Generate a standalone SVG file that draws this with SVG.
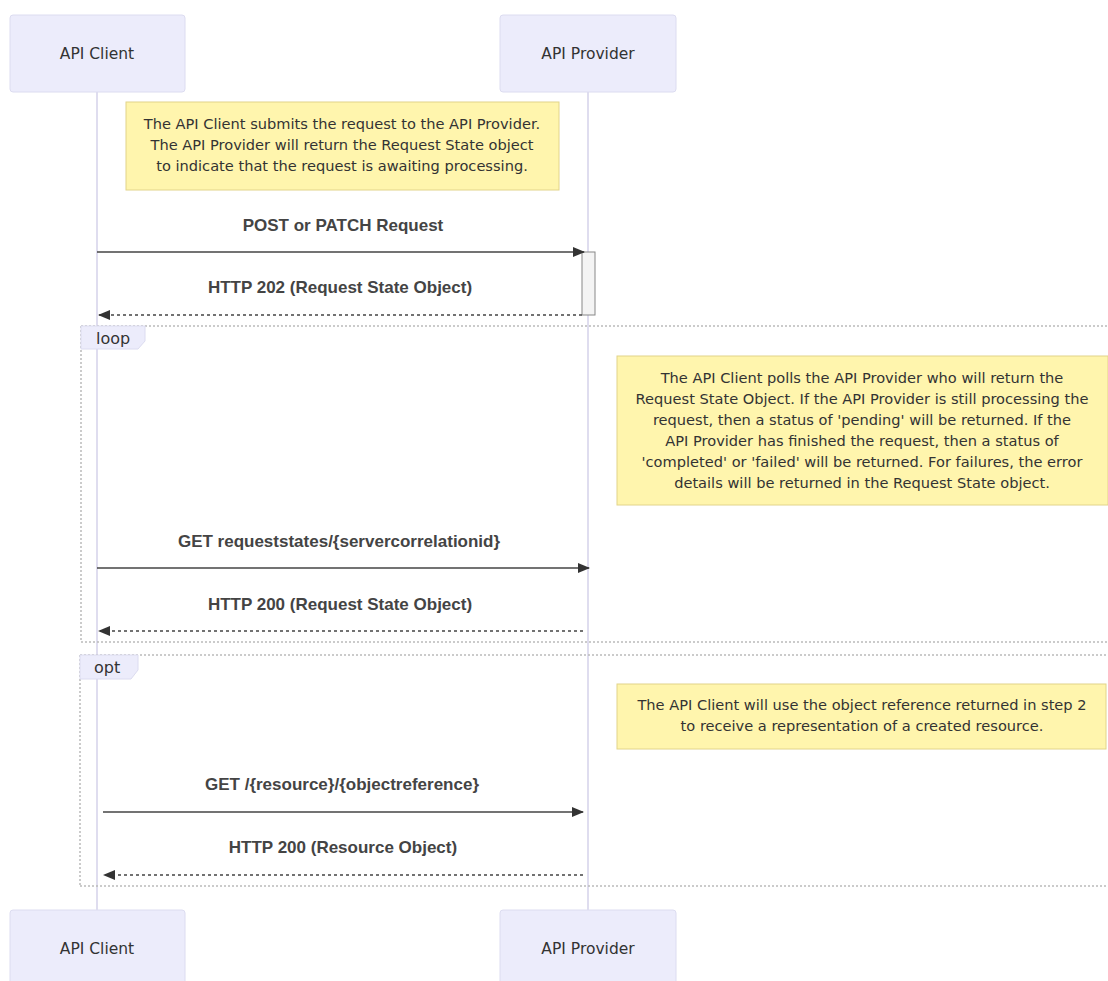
<svg xmlns="http://www.w3.org/2000/svg" width="1108" height="981" viewBox="0 0 1108 981">
<defs>
<marker id="arrow" viewBox="0 0 12 12" refX="11" refY="6" markerWidth="12" markerHeight="12" markerUnits="userSpaceOnUse" orient="auto">
<path d="M0,1 L12,6 L0,11 z" fill="#333"/>
</marker>
</defs>
<style>
.actor{fill:#ececfb;stroke:#dcdcf0;stroke-width:1}
.atext{font-family:"DejaVu Sans","Liberation Sans",sans-serif;font-size:15.5px;fill:#333;text-anchor:middle}
.life{stroke:#d4d2ea;stroke-width:1.5}
.note{fill:#fff5ad;stroke:#e2d48a;stroke-width:1}
.ntext{font-family:"DejaVu Sans","Liberation Sans",sans-serif;font-size:14.6px;fill:#333;text-anchor:middle}
.mtext{font-family:"Liberation Sans",Arial,sans-serif;font-size:17px;font-weight:bold;fill:#444;text-anchor:middle}
.msg{stroke:#444;stroke-width:1.5;fill:none}
.ret{stroke:#444;stroke-width:1.5;fill:none;stroke-dasharray:3,3}
.frame{fill:none;stroke:#bbb;stroke-width:1.5;stroke-dasharray:2,2}
.lbl{fill:#ececfb;stroke:#dcdcf0;stroke-width:1}
.ltext{font-family:"DejaVu Sans","Liberation Sans",sans-serif;font-size:16px;fill:#333}
.act{fill:#f4f4f4;stroke:#888;stroke-width:1}
</style>
<rect width="1108" height="981" fill="#fff"/>
<g id="lifelines">
<line class="life" x1="97" y1="92" x2="97" y2="910"/>
<line class="life" x1="588" y1="92" x2="588" y2="910"/>
</g>
<g id="actor-client-top"><rect class="actor" x="10" y="15" width="175" height="77" rx="3"/><text class="atext" x="97" y="59">API Client</text></g>
<g id="actor-provider-top"><rect class="actor" x="500" y="15" width="176" height="77" rx="3"/><text class="atext" x="588" y="59">API Provider</text></g>
<g id="actor-client-bottom"><rect class="actor" x="10" y="910" width="175" height="77" rx="3"/><text class="atext" x="97" y="954">API Client</text></g>
<g id="actor-provider-bottom"><rect class="actor" x="500" y="910" width="176" height="77" rx="3"/><text class="atext" x="588" y="954">API Provider</text></g>
<g id="note1"><rect class="note" x="126" y="102" width="433" height="88"/>
<text class="ntext" x="342" y="129">The API Client submits the request to the API Provider.</text>
<text class="ntext" x="342" y="150">The API Provider will return the Request State object</text>
<text class="ntext" x="342" y="171">to indicate that the request is awaiting processing.</text></g>
<g id="loop-frame">
<line class="frame" x1="81" y1="326" x2="1108" y2="326"/>
<line class="frame" x1="81" y1="326" x2="81" y2="642"/>
<line class="frame" x1="81" y1="642" x2="1108" y2="642"/>
<polygon class="lbl" points="81,326 145,326 145,341 138,349 81,349"/>
<text class="ltext" x="96" y="344">loop</text></g>
<g id="note2"><rect class="note" x="617" y="356" width="491" height="149"/>
<text class="ntext" x="862" y="383">The API Client polls the API Provider who will return the</text>
<text class="ntext" x="862" y="404">Request State Object. If the API Provider is still processing the</text>
<text class="ntext" x="862" y="425">request, then a status of 'pending' will be returned. If the</text>
<text class="ntext" x="862" y="446">API Provider has finished the request, then a status of</text>
<text class="ntext" x="862" y="467">'completed' or 'failed' will be returned. For failures, the error</text>
<text class="ntext" x="862" y="488">details will be returned in the Request State object.</text></g>
<g id="opt-frame">
<line class="frame" x1="80" y1="655" x2="1108" y2="655"/>
<line class="frame" x1="80" y1="655" x2="80" y2="886"/>
<line class="frame" x1="80" y1="886" x2="1108" y2="886"/>
<polygon class="lbl" points="80,655 138,655 138,670 131,679 80,679"/>
<text class="ltext" x="94" y="673">opt</text></g>
<g id="note3"><rect class="note" x="617" y="684" width="489" height="65"/>
<text class="ntext" x="862" y="710">The API Client will use the object reference returned in step 2</text>
<text class="ntext" x="862" y="731">to receive a representation of a created resource.</text></g>
<g id="activation"><rect class="act" x="582" y="252" width="13" height="63"/></g>
<g id="connectors">
<text class="mtext" x="343" y="231">POST or PATCH Request</text>
<line class="msg" x1="97" y1="252" x2="584" y2="252" marker-end="url(#arrow)"/>
<text class="mtext" x="340" y="293">HTTP 202 (Request State Object)</text>
<line class="ret" x1="582" y1="315" x2="99" y2="315" marker-end="url(#arrow)"/>
<text class="mtext" x="339" y="547">GET requeststates/{servercorrelationid}</text>
<line class="msg" x1="97" y1="568" x2="589" y2="568" marker-end="url(#arrow)"/>
<text class="mtext" x="340" y="610">HTTP 200 (Request State Object)</text>
<line class="ret" x1="583" y1="631" x2="99" y2="631" marker-end="url(#arrow)"/>
<text class="mtext" x="342" y="790">GET /{resource}/{objectreference}</text>
<line class="msg" x1="103" y1="812" x2="583" y2="812" marker-end="url(#arrow)"/>
<text class="mtext" x="343" y="853">HTTP 200 (Resource Object)</text>
<line class="ret" x1="583" y1="875" x2="104" y2="875" marker-end="url(#arrow)"/>
</g>
</svg>
